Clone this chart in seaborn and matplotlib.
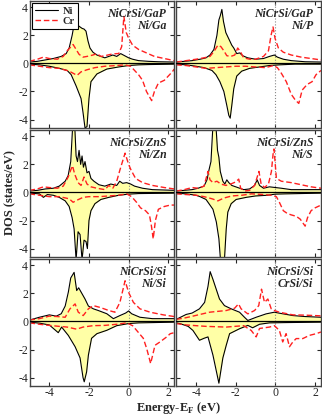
import numpy as np
import matplotlib
matplotlib.use("Agg")
import matplotlib.pyplot as plt
import seaborn as sns


# ======================
# CONFIG
# ======================

sns.set_theme(style="ticks")
plt.rcParams['font.family'] = ['Liberation Serif', 'DejaVu Serif']
plt.rcParams['mathtext.fontset'] = 'custom'
plt.rcParams['mathtext.rm'] = 'Liberation Serif'
plt.rcParams['mathtext.bf'] = 'Liberation Serif:bold'
plt.rcParams['axes.unicode_minus'] = False

NI_COLOR = 'black'
CR_COLOR = '#ff2020'
FILL_COLOR = '#ffffa6'


# ======================
# DATA  (energy in eV, DOS in states/eV)
# ======================

panel_titles = [
    "NiCrSi/GaP\nNi/Ga", "NiCrSi/GaP\nNi/P",
    "NiCrSi/ZnS\nNi/Zn", "NiCrSi/ZnS\nNi/S",
    "NiCrSi/Si\nNi/Si", "NiCrSi/Si\nCrSi/Si",
]

# --- NiCrSi/GaP, Ni/Ga ---
ga_ni_up = [(-5.0, 0.1), (-4.6, 0.15), (-4.2, 0.25), (-3.8, 0.35), (-3.4, 0.5),
            (-3.15, 0.7), (-3.0, 1.1), (-2.85, 2.0), (-2.72, 3.0), (-2.65, 3.4),
            (-2.55, 2.7), (-2.45, 2.6), (-2.35, 2.5), (-2.25, 2.45), (-2.15, 2.3),
            (-2.05, 1.6), (-1.95, 1.1), (-1.8, 0.8), (-1.6, 0.6), (-1.4, 0.5),
            (-1.2, 0.4), (-1.0, 0.5), (-0.8, 0.6), (-0.6, 0.5), (-0.4, 0.7),
            (-0.2, 0.55), (0.0, 0.4), (0.2, 0.3), (0.5, 0.2), (1.0, 0.15),
            (1.5, 0.12), (2.3, 0.1)]
ga_ni_dn = [(-5.0, -0.05), (-4.5, -0.1), (-4.0, -0.2), (-3.5, -0.35), (-3.1, -0.5),
            (-2.9, -0.8), (-2.65, -1.6), (-2.4, -2.5), (-2.3, -3.5), (-2.2, -4.6),
            (-2.1, -4.5), (-2.0, -2.5), (-1.9, -1.3), (-1.6, -0.75), (-1.1, -0.4),
            (-0.5, -0.25), (0.0, -0.15), (0.5, -0.1), (1.0, -0.08), (2.3, -0.05)]
ga_cr_up = [(-5.0, 0.15), (-4.6, 0.3), (-4.3, 0.45), (-4.0, 0.35), (-3.6, 0.3),
            (-3.3, 0.5), (-3.1, 0.9), (-2.9, 1.2), (-2.8, 1.35), (-2.65, 1.0),
            (-2.5, 0.65), (-2.3, 0.45), (-2.1, 0.5), (-1.8, 0.6), (-1.6, 0.7),
            (-1.4, 0.5), (-1.2, 0.55), (-0.9, 0.65), (-0.6, 0.7), (-0.5, 0.7),
            (-0.35, 1.2), (-0.24, 3.35), (-0.12, 2.2), (0.0, 1.8), (0.2, 1.3),
            (0.5, 1.0), (0.9, 0.75), (1.3, 0.5), (1.8, 0.35), (2.3, 0.2)]
ga_cr_dn = [(-5.0, -0.1), (-4.5, -0.2), (-4.0, -0.3), (-3.5, -0.35), (-3.0, -0.55),
            (-2.8, -0.7), (-2.6, -0.85), (-2.4, -0.6), (-2.1, -0.45), (-1.7, -0.3),
            (-1.2, -0.2), (-0.6, -0.15), (-0.2, -0.1), (0.1, -0.2), (0.3, -0.5),
            (0.5, -0.8), (0.7, -1.2), (0.9, -2.0), (1.16, -2.65), (1.3, -2.0),
            (1.5, -1.4), (1.8, -1.2), (2.0, -0.9), (2.2, -0.6), (2.3, -0.4)]

# --- NiCrSi/GaP, Ni/P ---
p_ni_up = [(-5.0, 0.1), (-4.6, 0.15), (-4.2, 0.2), (-3.8, 0.3), (-3.5, 0.4),
           (-3.3, 0.6), (-3.1, 1.0), (-2.95, 2.0), (-2.85, 3.1), (-2.78, 3.4),
           (-2.7, 3.85), (-2.62, 3.0), (-2.5, 2.2), (-2.4, 1.9), (-2.3, 1.6),
           (-2.2, 1.3), (-2.1, 1.1), (-1.95, 0.7), (-1.8, 0.75), (-1.65, 0.55),
           (-1.4, 0.4), (-1.0, 0.3), (-0.6, 0.35), (-0.3, 0.5), (-0.05, 0.6),
           (0.1, 0.45), (0.4, 0.3), (0.8, 0.2), (1.5, 0.12), (2.3, 0.1)]
p_ni_dn = [(-5.0, -0.05), (-4.5, -0.1), (-4.0, -0.2), (-3.6, -0.3), (-3.2, -0.5),
           (-3.0, -0.8), (-2.8, -1.3), (-2.6, -2.0), (-2.45, -3.0), (-2.35, -3.7),
           (-2.28, -3.9), (-2.2, -3.0), (-2.1, -1.8), (-1.95, -0.9), (-1.7, -0.55),
           (-1.3, -0.35), (-0.8, -0.25), (-0.3, -0.15), (0.2, -0.1), (1.0, -0.05),
           (2.3, -0.05)]
p_cr_up = [(-5.0, 0.1), (-4.5, 0.2), (-4.0, 0.3), (-3.6, 0.4), (-3.3, 0.5),
           (-3.1, 0.85), (-2.9, 1.3), (-2.75, 1.2), (-2.6, 0.9), (-2.45, 0.55),
           (-2.25, 0.5), (-2.05, 0.6), (-1.9, 1.1), (-1.75, 0.8), (-1.6, 0.4),
           (-1.3, 0.3), (-1.0, 0.3), (-0.6, 0.5), (-0.35, 0.9), (-0.22, 2.0),
           (-0.12, 2.6), (-0.02, 1.8), (0.15, 1.1), (0.4, 0.8), (0.8, 0.6),
           (1.3, 0.45), (1.8, 0.35), (2.3, 0.25)]
p_cr_dn = [(-5.0, -0.1), (-4.5, -0.15), (-4.0, -0.25), (-3.5, -0.35), (-3.0, -0.3),
           (-2.5, -0.25), (-2.0, -0.2), (-1.5, -0.2), (-1.0, -0.25), (-0.5, -0.3),
           (-0.1, -0.15), (0.1, -0.3), (0.3, -0.7), (0.55, -1.3), (0.8, -2.2),
           (1.0, -2.6), (1.18, -2.85), (1.35, -1.9), (1.6, -1.5), (1.85, -1.3),
           (2.05, -0.8), (2.3, -0.5)]

# --- NiCrSi/ZnS, Ni/Zn ---
zn_ni_up = [(-5.0, 0.1), (-4.6, 0.15), (-4.2, 0.25), (-3.8, 0.3), (-3.5, 0.45),
            (-3.2, 0.8), (-3.05, 1.2), (-2.92, 2.2), (-2.82, 4.8), (-2.72, 4.8),
            (-2.65, 2.6), (-2.58, 2.2), (-2.5, 3.0), (-2.42, 2.0), (-2.35, 2.6),
            (-2.28, 1.8), (-2.2, 2.2), (-2.1, 1.4), (-2.0, 1.5), (-1.9, 1.0),
            (-1.75, 0.8), (-1.5, 0.55), (-1.2, 0.45), (-0.9, 0.6), (-0.6, 0.5),
            (-0.45, 0.8), (-0.3, 0.65), (-0.1, 0.7), (0.1, 0.6), (0.3, 0.45),
            (0.7, 0.3), (1.2, 0.2), (2.3, 0.15)]
zn_ni_dn = [(-5.0, -0.05), (-4.5, -0.1), (-4.3, -0.35), (-4.1, -0.15), (-3.8, -0.2),
            (-3.5, -0.35), (-3.2, -0.6), (-3.0, -1.0), (-2.85, -1.8), (-2.75, -2.6),
            (-2.65, -4.8), (-2.55, -2.8), (-2.45, -3.0), (-2.35, -4.8), (-2.25, -3.4),
            (-2.15, -3.5), (-2.08, -4.0), (-2.0, -2.0), (-1.9, -1.3), (-1.7, -0.8),
            (-1.4, -0.5), (-1.0, -0.35), (-0.5, -0.2), (0.0, -0.12), (0.5, -0.08),
            (2.3, -0.05)]
zn_cr_up = [(-5.0, 0.15), (-4.6, 0.25), (-4.3, 0.4), (-4.0, 0.35), (-3.6, 0.3),
            (-3.3, 0.45), (-3.05, 1.1), (-2.92, 1.6), (-2.83, 1.9), (-2.72, 1.3),
            (-2.55, 0.7), (-2.4, 0.5), (-2.25, 1.1), (-2.1, 0.6), (-1.9, 0.4),
            (-1.6, 0.3), (-1.2, 0.2), (-1.0, 0.5), (-0.8, 0.3), (-0.6, 0.8),
            (-0.44, 1.6), (-0.18, 2.8), (0.0, 2.0), (0.12, 1.6), (0.35, 1.0),
            (0.7, 0.7), (1.2, 0.5), (1.8, 0.35), (2.3, 0.25)]
zn_cr_dn = [(-5.0, -0.1), (-4.5, -0.2), (-4.0, -0.3), (-3.5, -0.3), (-3.0, -0.45),
            (-2.8, -0.7), (-2.6, -0.55), (-2.3, -0.35), (-2.0, -0.3), (-1.5, -0.3),
            (-1.0, -0.25), (-0.5, -0.2), (-0.1, -0.1), (0.15, -0.3), (0.4, -0.7),
            (0.6, -1.1), (0.85, -1.3), (1.05, -1.6), (1.15, -2.4), (1.24, -3.3),
            (1.35, -2.0), (1.5, -1.2), (1.8, -1.0), (2.1, -0.9), (2.3, -0.9)]

# --- NiCrSi/ZnS, Ni/S ---
s_ni_up = [(-5.0, 0.1), (-4.6, 0.15), (-4.2, 0.2), (-3.9, 0.3), (-3.6, 0.45),
           (-3.45, 0.9), (-3.35, 1.6), (-3.25, 2.2), (-3.15, 4.8), (-3.0, 4.8),
           (-2.92, 3.0), (-2.85, 2.5), (-2.78, 1.5), (-2.65, 0.8), (-2.55, 0.6),
           (-2.45, 0.9), (-2.35, 0.7), (-2.2, 0.5), (-1.9, 0.35), (-1.6, 0.2),
           (-1.3, 0.25), (-1.05, 0.5), (-0.92, 0.9), (-0.8, 0.5), (-0.6, 0.3),
           (-0.3, 0.4), (0.0, 0.35), (0.3, 0.3), (0.8, 0.2), (1.5, 0.2), (2.3, 0.2)]
s_ni_dn = [(-5.0, -0.05), (-4.5, -0.1), (-4.0, -0.2), (-3.8, -0.3), (-3.5, -0.5),
           (-3.15, -1.2), (-2.98, -2.1), (-2.85, -3.3), (-2.77, -4.8), (-2.57, -4.8),
           (-2.48, -2.6), (-2.4, -1.4), (-2.23, -0.8), (-1.98, -0.5), (-1.47, -0.35),
           (-1.0, -0.25), (-0.4, -0.2), (0.0, -0.12), (0.5, -0.1), (2.3, -0.05)]
s_cr_up = [(-5.0, 0.1), (-4.6, 0.2), (-4.2, 0.35), (-3.9, 0.3), (-3.6, 0.45),
           (-3.4, 1.5), (-3.3, 0.9), (-3.15, 0.7), (-2.95, 0.8), (-2.75, 0.6),
           (-2.5, 0.5), (-2.25, 0.6), (-2.0, 0.75), (-1.85, 0.95), (-1.75, 0.3),
           (-1.55, 0.1), (-1.3, 0.15), (-1.05, 0.5), (-0.83, 1.5), (-0.72, 0.6),
           (-0.55, 0.35), (-0.35, 0.6), (-0.2, 1.5), (-0.12, 2.7), (-0.07, 3.1),
           (0.05, 1.0), (0.3, 0.8), (0.8, 0.7), (1.3, 0.55), (1.8, 0.4), (2.3, 0.3)]
s_cr_dn = [(-5.0, -0.1), (-4.5, -0.15), (-4.0, -0.2), (-3.6, -0.3), (-3.2, -0.45),
           (-2.9, -0.6), (-2.6, -0.4), (-2.2, -0.25), (-1.7, -0.2), (-1.2, -0.1),
           (-0.6, -0.15), (-0.2, -0.2), (0.05, -0.3), (0.2, -0.7), (0.4, -1.3),
           (0.6, -1.5), (0.8, -1.6), (1.05, -1.7), (1.25, -1.9), (1.5, -2.4),
           (1.62, -1.8), (1.8, -1.3), (2.0, -1.1), (2.3, -0.9)]

# --- NiCrSi/Si, Ni/Si ---
si_ni_up = [(-5.0, 0.1), (-4.5, 0.3), (-4.0, 0.47), (-3.65, 0.38), (-3.4, 0.55),
            (-3.2, 1.1), (-3.04, 2.1), (-2.92, 3.1), (-2.75, 3.5), (-2.62, 2.2),
            (-2.52, 2.4), (-2.4, 2.1), (-2.2, 1.6), (-2.03, 1.1), (-1.78, 0.9),
            (-1.53, 0.78), (-1.1, 0.55), (-0.77, 0.2), (-0.44, 0.42), (-0.15, 0.6),
            (0.0, 0.75), (0.15, 0.55), (0.57, 0.3), (1.2, 0.2), (2.3, 0.2)]
si_ni_dn = [(-5.0, -0.05), (-4.5, -0.12), (-4.0, -0.25), (-3.55, -0.8), (-3.38, -0.4),
            (-3.04, -1.0), (-2.7, -1.8), (-2.45, -2.6), (-2.3, -4.0), (-2.24, -4.3),
            (-2.12, -3.6), (-2.03, -2.4), (-1.87, -1.2), (-1.6, -0.87), (-1.1, -0.63),
            (-0.6, -0.3), (0.0, -0.15), (0.5, -0.1), (2.3, -0.05)]
si_cr_up = [(-5.0, 0.1), (-4.5, 0.2), (-4.0, 0.38), (-3.6, 0.35), (-3.2, 0.3),
            (-2.96, 0.9), (-2.7, 1.25), (-2.54, 0.66), (-2.29, 0.42), (-2.03, 0.9),
            (-1.78, 1.13), (-1.44, 1.0), (-1.0, 0.78), (-0.69, 0.66), (-0.44, 1.36),
            (-0.18, 2.9), (0.0, 2.07), (0.24, 1.36), (0.57, 0.9), (1.08, 0.66),
            (1.75, 0.47), (2.3, 0.35)]
si_cr_dn = [(-5.0, -0.1), (-4.5, -0.2), (-4.0, -0.28), (-3.5, -0.35), (-3.1, -0.4),
            (-2.62, -0.55), (-2.3, -0.4), (-1.8, -0.3), (-1.2, -0.28), (-0.6, -0.2),
            (-0.1, -0.1), (0.2, -0.3), (0.4, -0.63), (0.74, -1.2), (0.91, -1.93),
            (1.11, -3.0), (1.33, -1.7), (1.58, -1.46), (1.92, -1.1), (2.1, -0.87),
            (2.3, -0.8)]

# --- NiCrSi/Si, CrSi/Si ---
cs_ni_up = [(-5.0, 0.15), (-4.5, 0.5), (-4.2, 0.6), (-3.83, 0.9), (-3.57, 1.36),
            (-3.4, 2.5), (-3.29, 3.55), (-3.15, 3.0), (-3.07, 2.66), (-2.82, 1.6),
            (-2.57, 1.13), (-2.23, 0.9), (-1.81, 0.66), (-1.56, 0.3), (-1.39, 0.07),
            (-0.97, 0.3), (-0.47, 0.54), (-0.05, 0.66), (0.2, 0.59), (0.88, 0.42),
            (1.5, 0.35), (2.3, 0.3)]
cs_ni_dn = [(-5.0, -0.1), (-4.8, -0.16), (-4.4, -0.35), (-4.16, -0.64), (-3.83, -1.34),
            (-3.6, -1.2), (-3.4, -1.1), (-3.15, -2.4), (-2.85, -4.4), (-2.65, -2.6),
            (-2.48, -1.7), (-2.31, -0.87), (-1.81, -0.52), (-1.39, -0.28), (-1.15, -0.45),
            (-0.8, -0.2), (-0.3, -0.1), (0.5, -0.08), (2.3, -0.05)]
cs_cr_up = [(-5.0, 0.15), (-4.6, 0.24), (-4.16, 0.38), (-3.32, 0.66), (-2.48, 0.78),
            (-2.06, 0.94), (-1.86, 1.25), (-1.73, 0.9), (-1.39, 0.54), (-1.05, 0.78),
            (-0.84, 1.13), (-0.7, 2.3), (-0.55, 1.36), (-0.38, 1.6), (-0.21, 0.9),
            (-0.05, 0.78), (0.2, 0.66), (0.88, 0.47), (1.5, 0.45), (2.3, 0.4)]
cs_cr_dn = [(-5.0, -0.15), (-4.5, -0.25), (-3.5, -0.35), (-2.48, -0.4), (-1.6, -0.3),
            (-1.22, -0.64), (-0.97, -1.1), (-0.8, -0.5), (-0.3, -0.4), (-0.05, -0.3),
            (0.2, -0.64), (0.37, -1.46), (0.54, -0.87), (0.71, -1.8), (0.88, -1.46),
            (1.05, -1.22), (1.38, -1.22), (1.72, -0.99), (2.06, -0.87), (2.3, -0.75)]

panel_data = [
    (ga_ni_up, ga_ni_dn, ga_cr_up, ga_cr_dn),
    (p_ni_up, p_ni_dn, p_cr_up, p_cr_dn),
    (zn_ni_up, zn_ni_dn, zn_cr_up, zn_cr_dn),
    (s_ni_up, s_ni_dn, s_cr_up, s_cr_dn),
    (si_ni_up, si_ni_dn, si_cr_up, si_cr_dn),
    (cs_ni_up, cs_ni_dn, cs_cr_up, cs_cr_dn),
]

x_ticks = [-4, -2, 0, 2]
y_ticks = [-4, -2, 0, 2, 4]


def split(points):
    e, d = zip(*points)
    return np.array(e), np.array(d)


# ======================
# FIGURE
# ======================

fig, axes = plt.subplots(3, 2, figsize=(3.22, 4.18), dpi=100,
                         sharex=True, sharey=True)
fig.subplots_adjust(left=29.5 / 322, right=321 / 322,
                    top=1 - 1 / 418, bottom=1 - 386 / 418,
                    wspace=0.014, hspace=0.016)

for i, ax in enumerate(axes.flat):
    ni_up, ni_dn, cr_up, cr_dn = panel_data[i]

    for j, pts in enumerate((ni_up, ni_dn)):
        e, d = split(pts)
        ax.fill_between(e, 0, d, color=FILL_COLOR, lw=0)
        sns.lineplot(x=e, y=d, ax=ax, color=NI_COLOR, lw=0.8,
                     label="Ni" if j == 0 else None)

    for j, pts in enumerate((cr_up, cr_dn)):
        e, d = split(pts)
        sns.lineplot(x=e, y=d, ax=ax, color=CR_COLOR, lw=1.0,
                     dashes=False, linestyle=(0, (4, 2)),
                     label="Cr" if j == 0 else None)

    ax.axhline(0, color='black', lw=0.9, zorder=3)
    ax.axvline(0, color='#888888', lw=0.8, ls=':', zorder=1)

    ax.set_xlim(-5, 2.3)
    ax.set_ylim(-4.6, 4.45)
    ax.set_xticks(x_ticks)
    ax.set_yticks(y_ticks)
    ax.tick_params(direction='in', top=True, right=True, length=3,
                   width=0.8, labelsize=8.5, pad=1)
    for sp in ax.spines.values():
        sp.set_color('#444444')
        sp.set_linewidth(1.0)
    ax.set_xlabel("")
    ax.set_ylabel("")

    ax.text(0.945, 0.945, panel_titles[i], transform=ax.transAxes,
            ha='right', va='top', fontsize=8.5, fontweight='bold',
            fontstyle='italic', linespacing=1.05)

    if i == 0:
        leg = ax.legend(loc='upper left', frameon=True,
                        fancybox=False, edgecolor='black', framealpha=1,
                        handlelength=2.2, handletextpad=0.5,
                        labelspacing=0.1, borderpad=0.3, borderaxespad=0.2,
                        prop={'weight': 'bold', 'size': 7.5})
        leg.get_frame().set_linewidth(0.8)
    else:
        if ax.get_legend() is not None:
            ax.get_legend().remove()

fig.text(10 / 322, 1 - 193 / 418, "DOS (states/eV)", rotation=90,
         ha='center', va='center', fontsize=9, fontweight='bold')
fig.text(178 / 322, 1 - 408 / 418, r"Energy-E$_{\mathbf{F}}$ (eV)",
         ha='center', va='center', fontsize=9, fontweight='bold')

plt.savefig("out.png", dpi=100)
plt.close()
